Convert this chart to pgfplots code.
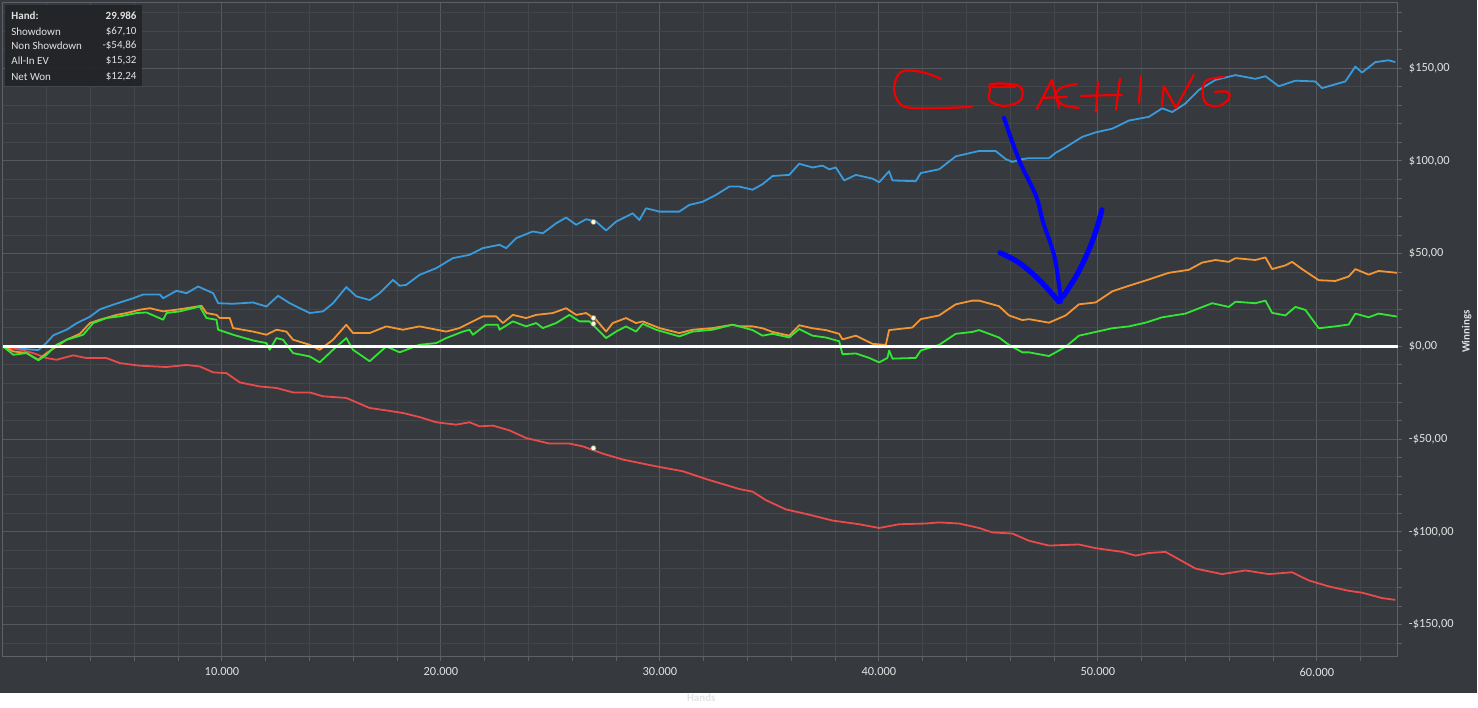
\documentclass[border=0pt]{standalone}
\usepackage{fontspec}
\setmainfont{Carlito}
\usepackage{pgfplots}
\pgfplotsset{compat=1.18}

\definecolor{bg}{HTML}{36393D}
\definecolor{gridminor}{HTML}{43474B}
\definecolor{gridmajor}{HTML}{565A5E}
\definecolor{axisline}{HTML}{5E6266}
\definecolor{labeltext}{HTML}{E2E2E2}
\definecolor{infobox}{HTML}{222427}
\definecolor{showdown}{HTML}{3A9BDC}
\definecolor{nonshowdown}{HTML}{E84B4B}
\definecolor{allinev}{HTML}{F39631}
\definecolor{netwon}{HTML}{33E633}
\definecolor{coachred}{HTML}{F00000}
\definecolor{coachblue}{HTML}{0000FF}

\begin{document}
\begin{tikzpicture}
% reference pixels, y counted downwards from the top edge
\begin{scope}[x=0.5pt,y=-0.5pt,yshift=347pt]
  \useasboundingbox (0,0) rectangle (1478,694);
  \fill[bg] (0,0) rectangle (1478,694);
\end{scope}

\begin{axis}[
    at={(1.5pt,18.35pt)}, anchor=south west,
    scale only axis,
    width=698.15pt, height=327.15pt,
    xmin=0, xmax=63700,
    ymin=-167.3, ymax=185.2,
    scaled x ticks=false, scaled y ticks=false,
    axis line style={axisline, line width=0.5pt},
    grid=both,
    minor grid style={gridminor, line width=0.5pt},
    major grid style={gridmajor, line width=0.5pt},
    xtick={10000,20000,...,60000},
    xticklabels={10.000,20.000,30.000,40.000,50.000,60.000},
    minor xtick={2000,4000,...,62000},
    ytick={-150,-100,...,150},
    yticklabels={{-\$150,00},{-\$100,00},{-\$50,00},{\$0,00},{\$50,00},{\$100,00},{\$150,00}},
    minor ytick={-160,-150,...,180},
    xtick pos=bottom, ytick pos=right,
    yticklabel pos=right,
    tick align=outside,
    major tick length=2pt, minor tick length=2pt,
    tick style={axisline, line width=0.5pt},
    ticklabel style={font=\fontsize{6.2}{7}\selectfont, text=labeltext},
  ]
  % Showdown
  \addplot[showdown, line width=0.9pt, line join=round] coordinates {
    (0,0) (319,-1) (1080,-1.5) (1612,-2) (1992,2) (2296,6) (2904,9) (3361,12.5)
    (3969,16) (4425,20) (5034,22.5) (5946,26) (6402,28) (7162,28) (7315,26)
    (7923,30) (8379,28.7) (8911,32.3) (9596,28.7) (9824,23.3) (10508,23)
    (11420,23.7) (12029,21.5) (12561,27.3) (13093,23.3) (14005,18) (14614,18.9)
    (15070,23.3) (15678,32) (16134,27) (16743,25)
    (17199,28.7) (17807,35.9) (18112,32.7) (18416,33.2) (19024,38.6) (19784,42.2)
    (20545,47.6) (21305,49.4) (21913,53) (22674,54.8) (22978,53) (23434,58.4)
    (24194,62) (24651,61) (25259,66.4) (25715,69.5) (26171,65.6) (26628,68.6)
    (27084,67.3) (27540,62.5) (27996,67.3) (28757,71.8) (29061,68.2) (29365,74.5)
    (29973,72.7) (30885,72.7) (31342,76.3) (31950,78) (32558,81.7) (33167,86.2)
    (33623,86.2)
    (34230,84.5) (34686,87.5) (35143,91.9) (35903,92.5) (36359,98.5) (36968,96.5)
    (37424,97.5) (37728,95.5) (38032,96.5) (38412,89.5) (38944,92.5) (39705,90.5)
    (40009,88.5) (40465,94.5) (40617,89.5) (41682,89.1) (41910,93.5) (42746,95.5)
    (43507,102.5) (44571,105.4) (45331,105.4) (45788,101) (46092,99.5) (46548,101)
    (46852,101.5) (47764,101.5) (48069,104.4) (48525,107.4) (49285,113) (49893,115.4)
    (50654,117.4) (51414,121.8) (52327,123.8) (52935,128.4) (53391,126.4) (53999,131)
    (54608,138.3) (55368,143.7) (56280,146.3) (57193,144.3) (57649,145.7) (58257,140.3)
    (59018,143.3) (59930,142.9) (60234,139.3) (61299,142.9) (61755,150.9) (62059,147.7)
    (62667,153.3) (63276,154.3) (63580,153.3)
  };
  % Non Showdown
  \addplot[nonshowdown, line width=0.9pt, line join=round] coordinates {
    (0,0) (776,-1.8) (1384,-3.6) (1992,-6.3) (2448,-7.2) (3209,-4.8) (3817,-6.3)
    (4729,-6.3) (5338,-9) (6250,-10.4) (7467,-11.1) (8379,-10) (8987,-10.8)
    (9596,-14) (10204,-14.4) (10812,-19.4) (11724,-21.6) (12485,-22.4) (13245,-24.8)
    (14005,-24.8) (14614,-26.9) (15678,-27.8) (16743,-33.2)
    (17503,-34.5) (18264,-35.9) (19024,-38.1) (19784,-40.9) (20697,-42.2) (21305,-40.9)
    (21761,-43.1) (22370,-42.7) (23130,-45.3) (23890,-49.4) (24955,-52.4) (25867,-52.4)
    (26475,-53.9) (27388,-57.8) (28300,-61) (29213,-63.2) (29973,-65) (31038,-67.3)
    (32102,-71.5)
    (33622,-76.9) (34230,-78.3) (34839,-82.9) (35751,-87.9) (36663,-90.3) (37880,-93.9)
    (39097,-95.9) (40009,-97.9) (40921,-95.9) (42138,-95.5) (42746,-94.9) (43659,-95.5)
    (44571,-97.9) (45179,-100.3) (46092,-100.9)
    (46852,-104.8) (47764,-107.4) (49133,-106.8) (49893,-108.8) (51110,-110.8)
    (51718,-112.8) (52327,-111.4) (53087,-110.8) (53543,-113.8) (54456,-119.8)
    (55672,-122.8) (56737,-120.8) (57801,-122.8) (58866,-121.8) (59626,-126.2)
    (60538,-129.4) (61451,-131.8) (62059,-132.8) (62971,-135.7) (63580,-136.7)
  };
  % All-In EV
  \addplot[allinev, line width=0.9pt, line join=round] coordinates {
    (0,0) (471,-2.7) (1080,-3.6) (1612,-7.2) (1992,-3.6) (2448,0) (2904,3.6)
    (3513,6.8) (3969,12.6) (4425,14.4) (5186,17) (5642,18) (6250,19.8) (6706,20.6)
    (7315,18.9) (7923,19.8) (8379,20.6) (9063,21.9) (9292,18) (9748,17) (9900,15.3)
    (10356,15.3) (10508,9.9) (11420,8) (12029,6.3) (12485,9) (12941,8) (13245,3.6)
    (14005,0.9) (14462,-1.8) (15070,3.6) (15678,11.7) (15982,7.2) (16743,7.2)
    (17503,10.8) (18264,9) (19024,10.8) (20241,8) (20849,9.9) (21305,12.6)
    (21913,16.2) (22522,16.2) (22826,12.6) (23282,17) (23890,15.3) (24347,17)
    (25107,18) (25715,20.6) (26171,17) (26628,18) (27084,14.4) (27540,8)
    (27844,12.6) (28452,15.3) (28909,12.6) (29213,13.5) (29973,9.9) (30885,7.2)
    (31494,9) (32406,9.9) (33319,11.7) (33623,10.8)
    (34230,10.8) (34686,9.8) (35143,7.8) (35903,5.8) (36359,11.4) (36968,9.8)
    (37576,8.8) (38184,6.8) (38336,3.8) (38944,5.8) (39705,1.4) (40313,0.8)
    (40465,8.8) (41530,10.2) (41910,14.7) (42746,16.7) (43507,22.7) (44267,24.7)
    (44571,24.7) (45483,21.7) (45940,16.7) (46548,14.2)
    (46852,14.7) (47764,12.8) (48525,16.7) (49133,22.7) (49893,23.7) (50654,29.7)
    (51414,32.7) (52327,36.1) (53239,39.7) (54151,41.3) (54760,45.2) (55368,46.6)
    (55976,45.6) (56280,47.6) (57193,46.6) (57649,48) (57953,41.7) (58561,43.7)
    (58866,45.6) (59322,41.7) (60082,35.7) (60842,35.3) (61451,37.7) (61755,41.7)
    (62363,38.7) (62819,40.7) (63650,39.7)
  };
  % Net Won
  \addplot[netwon, line width=0.9pt, line join=round] coordinates {
    (0,0) (471,-4.5) (1080,-3.6) (1612,-7.5) (1992,-4.5) (2448,0.9) (2904,3.6)
    (3665,6.3) (4121,12.6) (4729,15.3) (5338,16.2) (6098,18) (6554,18.3) (7315,14.4)
    (7467,18) (8075,18.9) (8987,21.5) (9292,15.3) (9748,14.4) (9824,9) (10508,6.3)
    (11420,3.2) (12029,1.8) (12181,-1.8) (12485,4.5) (12789,3.6) (13245,-3.6)
    (14005,-5.4) (14462,-8.6) (15070,-1.8) (15678,4.5) (15982,-1.8) (16743,-8)
    (17503,0) (18112,-3.2) (19024,0.9) (19784,1.8) (20241,4.5) (21001,8) (21305,9)
    (21457,6.3) (22065,11.7) (22598,11.7) (22674,9) (23282,13.5) (23890,10.8)
    (24347,12.6) (24651,9.9) (25259,12.6) (25867,17) (26323,13.5) (26780,13.5)
    (27084,9.9) (27540,4.5) (27996,8) (28452,10.8) (28909,8) (29213,12.2) (29821,9)
    (30885,5.4) (31494,8) (32406,9) (33319,11.7) (33623,10.8)
    (34230,8.8) (34686,5.8) (35143,6.8) (35903,4.8) (36359,9.4) (36968,5.8)
    (37576,4.8) (38184,2.8) (38336,-4.2) (38944,-3.8) (39553,-6.2) (40009,-8.6)
    (40389,-6.2) (40465,-2.2) (40617,-6.6) (41682,-6.2) (41910,-2.2) (42746,0.8)
    (43507,6.8) (44267,7.8) (44571,8.8) (45483,4.8) (45940,0.8) (46548,-3.2)
    (46852,-3.2) (47764,-5.2) (48525,-0.2) (49133,5.8) (49893,7.8) (50654,9.8)
    (51414,10.8) (52174,12.8) (52935,15.7) (53999,17.7) (55216,23.3) (55976,21.3)
    (56280,24.1) (57193,23.3) (57649,24.7) (57953,18.1) (58561,16.7) (59018,21.3)
    (59474,19.7) (60082,9.8) (60842,10.8) (61451,11.8) (61755,17.7) (62363,15.7)
    (62819,17.7) (63650,16.1)
  };
  % zero line
  \addplot[white, line width=1.5pt] coordinates {(0,0) (63700,0)};
  % hover markers at the selected hand
  \addplot[only marks, mark=*, mark size=1.3pt,
    mark options={fill=white!85!yellow, draw=black!50, line width=0.3pt}]
    coordinates {(26962,67.10) (26962,15.32) (26962,12.24) (26962,-54.86)};
\end{axis}

\begin{scope}[x=0.5pt,y=-0.5pt,yshift=347pt]
  % axis titles
  \node[rotate=90, text=labeltext, font=\fontsize{5.5}{6}\selectfont\bfseries]
    at (1468,332) {Winnings};
  \node[anchor=north, text=labeltext, font=\fontsize{5.5}{6}\selectfont\bfseries]
    at (702,687) {Hands};

  % info box
  \fill[infobox, opacity=0.92] (5,5) rectangle (142,86);
  \begin{scope}[every node/.style={text=labeltext, font=\fontsize{5.5}{6}\selectfont, inner sep=0pt}]
    \node[anchor=west, font=\fontsize{5.5}{6}\selectfont\bfseries] at (11,15.7) {Hand:};
    \node[anchor=east, font=\fontsize{5.5}{6}\selectfont\bfseries] at (137,15.7) {29.986};
    \node[anchor=west] at (11,31.7) {Showdown};
    \node[anchor=east] at (137,31.7) {\$67,10};
    \node[anchor=west] at (11,46) {Non Showdown};
    \node[anchor=east] at (137,46) {-\$54,86};
    \node[anchor=west] at (11,61) {All-In EV};
    \node[anchor=east] at (137,61) {\$15,32};
    \node[anchor=west] at (11,76.7) {Net Won};
    \node[anchor=east] at (137,76.7) {\$12,24};
  \end{scope}

  % hand-drawn "COACHING"
  \begin{scope}[coachred, line width=1.1pt, line cap=round, line join=round]
    \draw plot[smooth, tension=0.6] coordinates {(942,79) (922,72) (902,72) (895,88) (900,103) (912,108) (945,108) (973,107)};
    \draw plot[smooth cycle, tension=0.6] coordinates {(993,84) (1020,86) (1022,100) (1006,106) (991,101) (991,90)};
    \draw (993,87) -- (1016,87);
    \draw (1038,109) -- (1053,80) -- (1060,108);
    \draw (1043,98) -- (1068,97);
    \draw plot[smooth, tension=0.6] coordinates {(1078,84) (1062,88) (1057,96) (1064,105) (1080,108)};
    \draw (1099,82) -- (1097,112);
    \draw (1121,79) -- (1117,110);
    \draw (1082,96) -- (1123,95);
    \draw (1142,77) -- (1140,103);
    \draw (1163,106) -- (1165,86) -- (1177,108) -- (1195,75);
    \draw plot[smooth, tension=0.6] coordinates {(1225,77) (1207,81) (1204,94) (1208,104) (1220,106) (1230,99) (1229,92) (1216,92)};
  \end{scope}

  % hand-drawn arrow
  \begin{scope}[coachblue, line width=2.6pt, line cap=round, line join=round]
    \draw[line width=2pt] plot[smooth, tension=0.6] coordinates {(1005,118) (1020,160) (1037,196) (1044,222) (1055,255) (1060,285) (1062,302)};
    \draw plot[smooth, tension=0.6] coordinates {(1001,253) (1020,263) (1040,280) (1060,302)};
    \draw plot[smooth, tension=0.6] coordinates {(1064,297) (1078,275) (1090,250) (1098,228) (1103,210)};
  \end{scope}
\end{scope}
\end{tikzpicture}
\end{document}
